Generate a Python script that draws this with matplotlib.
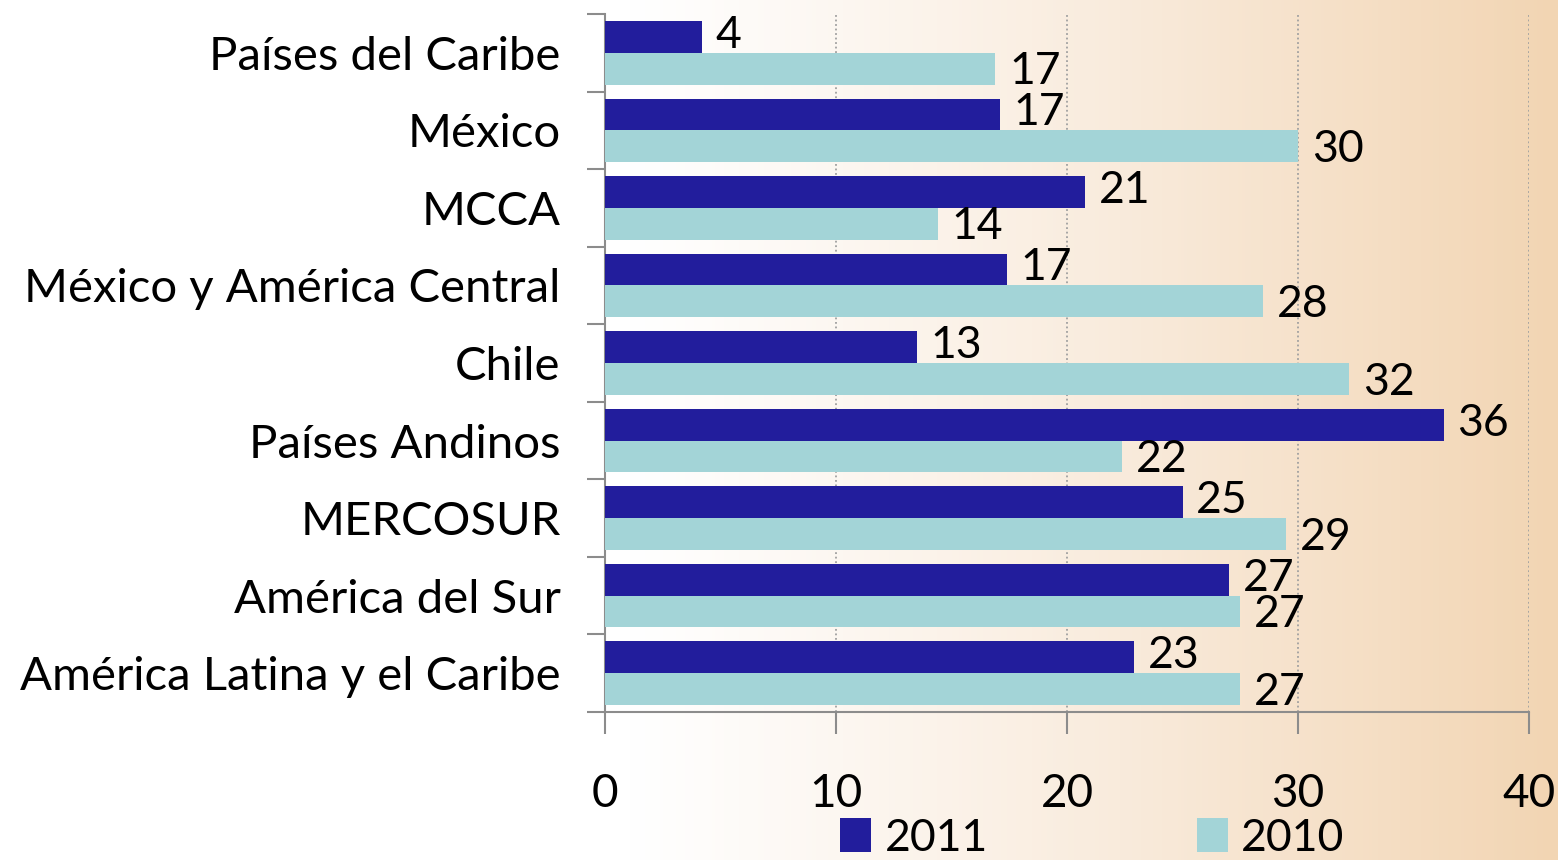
import numpy as np
import matplotlib
matplotlib.use("Agg")
import matplotlib.pyplot as plt
from matplotlib.colors import LinearSegmentedColormap

plt.rcParams['font.family'] = ['Lato', 'DejaVu Sans']

# data (top to bottom as drawn)
categories = ["Países del Caribe", "México", "MCCA", "México y América Central",
              "Chile", "Países Andinos", "MERCOSUR", "América del Sur",
              "América Latina y el Caribe"]
val_2011 = [4.2, 17.1, 20.8, 17.4, 13.5, 36.3, 25.0, 27.0, 22.9]
val_2010 = [16.9, 30.0, 14.4, 28.5, 32.2, 22.4, 29.5, 27.5, 27.5]
lab_2011 = ["4", "17", "21", "17", "13", "36", "25", "27", "23"]
lab_2010 = ["17", "30", "14", "28", "32", "22", "29", "27", "27"]
xticks = [0, 10, 20, 30, 40]

c2011 = "#221d9c"
c2010 = "#a3d4d7"

fig = plt.figure(figsize=(15.58, 8.6), dpi=100)

# background gradient: white on the left, peach on the right
bg = fig.add_axes([0, 0, 1, 1], zorder=-10)
grad = np.linspace(0, 1, 512)
grad = np.clip((grad - 0.4) / 0.6, 0, 1) ** 1.1
cmap = LinearSegmentedColormap.from_list("bg", ["#ffffff", "#f9ebdc", "#f2d5b3"])
bg.imshow(grad[np.newaxis, :], aspect="auto", cmap=cmap, extent=[0, 1, 0, 1])
bg.axis("off")

ax = fig.add_axes([605 / 1558, 1 - 712 / 860, (1529 - 605) / 1558, (712 - 14) / 860])
ax.patch.set_alpha(0)

n = len(categories)
y = np.arange(n)  # 0 at top
h = 0.41
ax.barh(y - h / 2, val_2011, height=h, color=c2011, zorder=3, label="2011")
ax.barh(y + h / 2, val_2010, height=h, color=c2010, zorder=3, label="2010")

for i in range(n):
    ax.text(val_2011[i] + 0.6, y[i] - h / 2 - 0.02, lab_2011[i], va="center", ha="left",
            fontsize=32, color="black", zorder=4)
    ax.text(val_2010[i] + 0.6, y[i] + h / 2 + 0.04, lab_2010[i], va="center", ha="left",
            fontsize=32, color="black", zorder=4)

ax.set_xlim(0, 40)
ax.set_ylim(n - 0.5, -0.5)
ax.set_xticks(xticks)
ax.set_xticklabels([str(t) for t in xticks], fontsize=33)

# category boundaries as ticks, names as minor labels
ax.set_yticks(np.arange(-0.5, n, 1.0))
ax.set_yticklabels([])
ax.set_yticks(y, minor=True)
ax.set_yticklabels(categories, minor=True, fontsize=34)
ax.tick_params(axis="y", which="major", length=13, width=1.5, color="#8c8c8c")
ax.tick_params(axis="y", which="minor", length=0, pad=32)
ax.tick_params(axis="x", length=16, width=1.5, color="#8c8c8c", pad=28)

ax.grid(axis="x", linestyle=(0, (1, 1.5)), color="#a0a0a0", linewidth=1.3, zorder=0)
for s in ["top", "right"]:
    ax.spines[s].set_visible(False)
for s in ["left", "bottom"]:
    ax.spines[s].set_color("#8c8c8c")
    ax.spines[s].set_linewidth(1.5)

leg = fig.legend(loc="lower left", bbox_to_anchor=(800 / 1558, -0.045), ncol=2,
                 frameon=False, fontsize=32, handlelength=0.7, handleheight=0.8,
                 handletextpad=0.3, columnspacing=4.7)

fig.savefig("out.png", dpi=100)
